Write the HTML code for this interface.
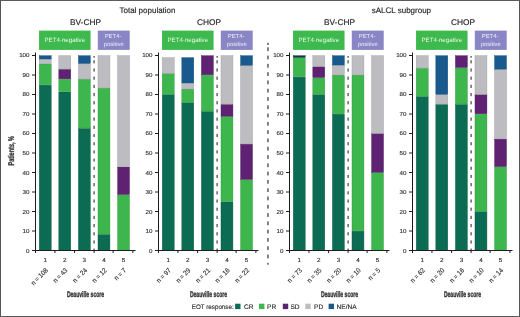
<!DOCTYPE html>
<html><head><meta charset="utf-8"><style>
html,body{margin:0;padding:0;background:#fff;}
body{width:520px;height:317px;overflow:hidden;position:relative;}
.frame{position:absolute;left:0;top:0;width:518px;height:315px;border:1px solid;border-color:#5a5a5a #555 #5a5a5a #555;}
svg{position:absolute;left:0;top:0;will-change:transform;}
text{font-family:"Liberation Sans",sans-serif;text-rendering:geometricPrecision;}
</style></head><body>
<div class="frame"></div>
<svg width="520" height="317" viewBox="0 0 520 317" font-family="Liberation Sans, sans-serif">
<rect x="39.25" y="85.14" width="11.95" height="165.16" fill="#0b6c53" stroke="#095844" stroke-width="0.4"/>
<rect x="39.25" y="63.89" width="11.95" height="20.86" fill="#3cb64d" stroke="#31953f" stroke-width="0.4"/>
<rect x="39.25" y="59.40" width="11.95" height="4.08" fill="#bdbdc1" stroke="#9a9a9e" stroke-width="0.4"/>
<rect x="39.25" y="55.70" width="11.95" height="3.31" fill="#185a8e" stroke="#134974" stroke-width="0.4"/>
<rect x="58.83" y="91.97" width="11.95" height="158.33" fill="#0b6c53" stroke="#095844" stroke-width="0.4"/>
<rect x="58.83" y="79.30" width="11.95" height="12.27" fill="#3cb64d" stroke="#31953f" stroke-width="0.4"/>
<rect x="58.83" y="69.35" width="11.95" height="9.54" fill="#5f2272" stroke="#4d1b5d" stroke-width="0.4"/>
<rect x="58.83" y="55.70" width="11.95" height="13.25" fill="#bdbdc1" stroke="#9a9a9e" stroke-width="0.4"/>
<rect x="78.41" y="128.44" width="11.95" height="121.86" fill="#0b6c53" stroke="#095844" stroke-width="0.4"/>
<rect x="78.41" y="79.30" width="11.95" height="48.74" fill="#3cb64d" stroke="#31953f" stroke-width="0.4"/>
<rect x="78.41" y="63.89" width="11.95" height="15.01" fill="#bdbdc1" stroke="#9a9a9e" stroke-width="0.4"/>
<rect x="78.41" y="55.70" width="11.95" height="7.79" fill="#185a8e" stroke="#134974" stroke-width="0.4"/>
<rect x="97.99" y="234.51" width="11.95" height="15.79" fill="#0b6c53" stroke="#095844" stroke-width="0.4"/>
<rect x="97.99" y="88.27" width="11.95" height="145.85" fill="#3cb64d" stroke="#31953f" stroke-width="0.4"/>
<rect x="97.99" y="55.70" width="11.95" height="32.16" fill="#bdbdc1" stroke="#9a9a9e" stroke-width="0.4"/>
<rect x="117.57" y="194.93" width="11.95" height="55.37" fill="#3cb64d" stroke="#31953f" stroke-width="0.4"/>
<rect x="117.57" y="167.04" width="11.95" height="27.49" fill="#5f2272" stroke="#4d1b5d" stroke-width="0.4"/>
<rect x="117.57" y="55.70" width="11.95" height="110.94" fill="#bdbdc1" stroke="#9a9a9e" stroke-width="0.4"/>
<line x1="35.5" y1="52.5" x2="35.5" y2="253" stroke="#1c1c1c" stroke-width="1"/>
<line x1="32" y1="250.50" x2="35.5" y2="250.50" stroke="#1c1c1c" stroke-width="1"/>
<text transform="translate(29.5,253) scale(1.07,1)" font-size="5.8" text-anchor="end" fill="#2a2a2a" stroke="#2a2a2a" stroke-width="0.12">0</text>
<line x1="32" y1="231.00" x2="35.5" y2="231.00" stroke="#1c1c1c" stroke-width="1"/>
<text transform="translate(29.5,233) scale(1.07,1)" font-size="5.8" text-anchor="end" fill="#2a2a2a" stroke="#2a2a2a" stroke-width="0.12">10</text>
<line x1="32" y1="211.50" x2="35.5" y2="211.50" stroke="#1c1c1c" stroke-width="1"/>
<text transform="translate(29.5,214) scale(1.07,1)" font-size="5.8" text-anchor="end" fill="#2a2a2a" stroke="#2a2a2a" stroke-width="0.12">20</text>
<line x1="32" y1="192.00" x2="35.5" y2="192.00" stroke="#1c1c1c" stroke-width="1"/>
<text transform="translate(29.5,194) scale(1.07,1)" font-size="5.8" text-anchor="end" fill="#2a2a2a" stroke="#2a2a2a" stroke-width="0.12">30</text>
<line x1="32" y1="172.50" x2="35.5" y2="172.50" stroke="#1c1c1c" stroke-width="1"/>
<text transform="translate(29.5,175) scale(1.07,1)" font-size="5.8" text-anchor="end" fill="#2a2a2a" stroke="#2a2a2a" stroke-width="0.12">40</text>
<line x1="32" y1="153.00" x2="35.5" y2="153.00" stroke="#1c1c1c" stroke-width="1"/>
<text transform="translate(29.5,155) scale(1.07,1)" font-size="5.8" text-anchor="end" fill="#2a2a2a" stroke="#2a2a2a" stroke-width="0.12">50</text>
<line x1="32" y1="133.50" x2="35.5" y2="133.50" stroke="#1c1c1c" stroke-width="1"/>
<text transform="translate(29.5,135) scale(1.07,1)" font-size="5.8" text-anchor="end" fill="#2a2a2a" stroke="#2a2a2a" stroke-width="0.12">60</text>
<line x1="32" y1="114.00" x2="35.5" y2="114.00" stroke="#1c1c1c" stroke-width="1"/>
<text transform="translate(29.5,116) scale(1.07,1)" font-size="5.8" text-anchor="end" fill="#2a2a2a" stroke="#2a2a2a" stroke-width="0.12">70</text>
<line x1="32" y1="94.50" x2="35.5" y2="94.50" stroke="#1c1c1c" stroke-width="1"/>
<text transform="translate(29.5,96) scale(1.07,1)" font-size="5.8" text-anchor="end" fill="#2a2a2a" stroke="#2a2a2a" stroke-width="0.12">80</text>
<line x1="32" y1="75.00" x2="35.5" y2="75.00" stroke="#1c1c1c" stroke-width="1"/>
<text transform="translate(29.5,77) scale(1.07,1)" font-size="5.8" text-anchor="end" fill="#2a2a2a" stroke="#2a2a2a" stroke-width="0.12">90</text>
<line x1="32" y1="55.50" x2="35.5" y2="55.50" stroke="#1c1c1c" stroke-width="1"/>
<text transform="translate(29.5,57) scale(1.07,1)" font-size="5.8" text-anchor="end" fill="#2a2a2a" stroke="#2a2a2a" stroke-width="0.12">100</text>
<line x1="35" y1="250.50" x2="135.5" y2="250.50" stroke="#1c1c1c" stroke-width="1"/>
<line x1="54.95" y1="250.50" x2="54.95" y2="253" stroke="#1c1c1c" stroke-width="1"/>
<line x1="74.60" y1="250.50" x2="74.60" y2="253" stroke="#1c1c1c" stroke-width="1"/>
<line x1="94.10" y1="250.50" x2="94.10" y2="253" stroke="#1c1c1c" stroke-width="1"/>
<line x1="113.10" y1="250.50" x2="113.10" y2="253" stroke="#1c1c1c" stroke-width="1"/>
<line x1="132.90" y1="250.50" x2="132.90" y2="253" stroke="#1c1c1c" stroke-width="1"/>
<rect x="93.45" y="56.00" width="1.3" height="1.70" fill="#505050"/>
<rect x="93.45" y="60.20" width="1.3" height="3.20" fill="#505050"/>
<rect x="93.45" y="68.39" width="1.3" height="3.20" fill="#505050"/>
<rect x="93.45" y="76.58" width="1.3" height="3.20" fill="#505050"/>
<rect x="93.45" y="84.77" width="1.3" height="3.20" fill="#505050"/>
<rect x="93.45" y="92.96" width="1.3" height="3.20" fill="#505050"/>
<rect x="93.45" y="101.15" width="1.3" height="3.20" fill="#505050"/>
<rect x="93.45" y="109.34" width="1.3" height="3.20" fill="#505050"/>
<rect x="93.45" y="117.53" width="1.3" height="3.20" fill="#505050"/>
<rect x="93.45" y="125.72" width="1.3" height="3.20" fill="#505050"/>
<rect x="93.45" y="133.91" width="1.3" height="3.20" fill="#505050"/>
<rect x="93.45" y="142.10" width="1.3" height="3.20" fill="#505050"/>
<rect x="93.45" y="150.29" width="1.3" height="3.20" fill="#505050"/>
<rect x="93.45" y="158.48" width="1.3" height="3.20" fill="#505050"/>
<rect x="93.45" y="166.67" width="1.3" height="3.20" fill="#505050"/>
<rect x="93.45" y="174.86" width="1.3" height="3.20" fill="#505050"/>
<rect x="93.45" y="183.05" width="1.3" height="3.20" fill="#505050"/>
<rect x="93.45" y="191.24" width="1.3" height="3.20" fill="#505050"/>
<rect x="93.45" y="199.43" width="1.3" height="3.20" fill="#505050"/>
<rect x="93.45" y="207.62" width="1.3" height="3.20" fill="#505050"/>
<rect x="93.45" y="215.81" width="1.3" height="3.20" fill="#505050"/>
<rect x="93.45" y="224.00" width="1.3" height="3.20" fill="#505050"/>
<rect x="93.45" y="232.19" width="1.3" height="3.20" fill="#505050"/>
<rect x="93.45" y="240.38" width="1.3" height="3.20" fill="#505050"/>
<rect x="93.45" y="248.57" width="1.3" height="1.43" fill="#505050"/>
<text transform="translate(45.22,261.5) scale(1.07,1)" font-size="5.9" text-anchor="middle" fill="#2a2a2a" stroke="#2a2a2a" stroke-width="0.12">1</text>
<text transform="translate(48.42,270.90) rotate(-45) scale(0.9,1)" font-size="6.9" text-anchor="end" fill="#2a2a2a" stroke="#2a2a2a" stroke-width="0.12">n = 108</text>
<text transform="translate(64.80,261.5) scale(1.07,1)" font-size="5.9" text-anchor="middle" fill="#2a2a2a" stroke="#2a2a2a" stroke-width="0.12">2</text>
<text transform="translate(68.00,270.90) rotate(-45) scale(0.9,1)" font-size="6.9" text-anchor="end" fill="#2a2a2a" stroke="#2a2a2a" stroke-width="0.12">n = 43</text>
<text transform="translate(84.38,261.5) scale(1.07,1)" font-size="5.9" text-anchor="middle" fill="#2a2a2a" stroke="#2a2a2a" stroke-width="0.12">3</text>
<text transform="translate(87.58,270.90) rotate(-45) scale(0.9,1)" font-size="6.9" text-anchor="end" fill="#2a2a2a" stroke="#2a2a2a" stroke-width="0.12">n = 24</text>
<text transform="translate(103.96,261.5) scale(1.07,1)" font-size="5.9" text-anchor="middle" fill="#2a2a2a" stroke="#2a2a2a" stroke-width="0.12">4</text>
<text transform="translate(107.16,270.90) rotate(-45) scale(0.9,1)" font-size="6.9" text-anchor="end" fill="#2a2a2a" stroke="#2a2a2a" stroke-width="0.12">n = 12</text>
<text transform="translate(123.54,261.5) scale(1.07,1)" font-size="5.9" text-anchor="middle" fill="#2a2a2a" stroke="#2a2a2a" stroke-width="0.12">5</text>
<text transform="translate(126.74,270.90) rotate(-45) scale(0.9,1)" font-size="6.9" text-anchor="end" fill="#2a2a2a" stroke="#2a2a2a" stroke-width="0.12">n = 7</text>
<text transform="translate(85.50,297) scale(0.62,1)" font-size="8.2" font-weight="bold" text-anchor="middle" fill="#333" stroke="#333" stroke-width="0.35">Deauville score</text>
<text x="85.50" y="25.2" font-size="8.35" text-anchor="middle" fill="#1e1e1e" stroke="#1e1e1e" stroke-width="0.15">BV-CHP</text>
<rect x="39.05" y="30.6" width="51.51" height="19.3" fill="#3eb94d"/>
<text x="64.80" y="42.3" font-size="6.15" text-anchor="middle" fill="#eefaea">PET4-negative</text>
<rect x="97.79" y="30.6" width="31.93" height="19.3" fill="#8a86c5"/>
<text x="113.05" y="37.7" font-size="5.9" text-anchor="middle" fill="#eeedfa">PET4-</text>
<text x="113.75" y="45.7" font-size="5.9" text-anchor="middle" fill="#eeedfa">positive</text>
<rect x="162.25" y="94.70" width="11.95" height="155.60" fill="#0b6c53" stroke="#095844" stroke-width="0.4"/>
<rect x="162.25" y="73.64" width="11.95" height="20.66" fill="#3cb64d" stroke="#31953f" stroke-width="0.4"/>
<rect x="162.25" y="57.65" width="11.95" height="15.59" fill="#bdbdc1" stroke="#9a9a9e" stroke-width="0.4"/>
<rect x="181.83" y="102.70" width="11.95" height="147.60" fill="#0b6c53" stroke="#095844" stroke-width="0.4"/>
<rect x="181.83" y="89.24" width="11.95" height="13.06" fill="#3cb64d" stroke="#31953f" stroke-width="0.4"/>
<rect x="181.83" y="83.39" width="11.95" height="5.45" fill="#bdbdc1" stroke="#9a9a9e" stroke-width="0.4"/>
<rect x="181.83" y="57.65" width="11.95" height="25.34" fill="#185a8e" stroke="#134974" stroke-width="0.4"/>
<rect x="201.41" y="111.47" width="11.95" height="138.83" fill="#0b6c53" stroke="#095844" stroke-width="0.4"/>
<rect x="201.41" y="75.20" width="11.95" height="35.87" fill="#3cb64d" stroke="#31953f" stroke-width="0.4"/>
<rect x="201.41" y="55.70" width="11.95" height="19.10" fill="#5f2272" stroke="#4d1b5d" stroke-width="0.4"/>
<rect x="220.99" y="201.95" width="11.95" height="48.35" fill="#0b6c53" stroke="#095844" stroke-width="0.4"/>
<rect x="220.99" y="116.64" width="11.95" height="84.91" fill="#3cb64d" stroke="#31953f" stroke-width="0.4"/>
<rect x="220.99" y="104.45" width="11.95" height="11.79" fill="#5f2272" stroke="#4d1b5d" stroke-width="0.4"/>
<rect x="220.99" y="55.70" width="11.95" height="48.35" fill="#bdbdc1" stroke="#9a9a9e" stroke-width="0.4"/>
<rect x="240.57" y="179.72" width="11.95" height="70.58" fill="#3cb64d" stroke="#31953f" stroke-width="0.4"/>
<rect x="240.57" y="144.23" width="11.95" height="35.09" fill="#5f2272" stroke="#4d1b5d" stroke-width="0.4"/>
<rect x="240.57" y="65.65" width="11.95" height="78.19" fill="#bdbdc1" stroke="#9a9a9e" stroke-width="0.4"/>
<rect x="240.57" y="55.70" width="11.95" height="9.54" fill="#185a8e" stroke="#134974" stroke-width="0.4"/>
<line x1="158.5" y1="52.5" x2="158.5" y2="253" stroke="#1c1c1c" stroke-width="1"/>
<line x1="155" y1="250.50" x2="158.5" y2="250.50" stroke="#1c1c1c" stroke-width="1"/>
<text transform="translate(152.5,253) scale(1.07,1)" font-size="5.8" text-anchor="end" fill="#2a2a2a" stroke="#2a2a2a" stroke-width="0.12">0</text>
<line x1="155" y1="231.00" x2="158.5" y2="231.00" stroke="#1c1c1c" stroke-width="1"/>
<text transform="translate(152.5,233) scale(1.07,1)" font-size="5.8" text-anchor="end" fill="#2a2a2a" stroke="#2a2a2a" stroke-width="0.12">10</text>
<line x1="155" y1="211.50" x2="158.5" y2="211.50" stroke="#1c1c1c" stroke-width="1"/>
<text transform="translate(152.5,214) scale(1.07,1)" font-size="5.8" text-anchor="end" fill="#2a2a2a" stroke="#2a2a2a" stroke-width="0.12">20</text>
<line x1="155" y1="192.00" x2="158.5" y2="192.00" stroke="#1c1c1c" stroke-width="1"/>
<text transform="translate(152.5,194) scale(1.07,1)" font-size="5.8" text-anchor="end" fill="#2a2a2a" stroke="#2a2a2a" stroke-width="0.12">30</text>
<line x1="155" y1="172.50" x2="158.5" y2="172.50" stroke="#1c1c1c" stroke-width="1"/>
<text transform="translate(152.5,175) scale(1.07,1)" font-size="5.8" text-anchor="end" fill="#2a2a2a" stroke="#2a2a2a" stroke-width="0.12">40</text>
<line x1="155" y1="153.00" x2="158.5" y2="153.00" stroke="#1c1c1c" stroke-width="1"/>
<text transform="translate(152.5,155) scale(1.07,1)" font-size="5.8" text-anchor="end" fill="#2a2a2a" stroke="#2a2a2a" stroke-width="0.12">50</text>
<line x1="155" y1="133.50" x2="158.5" y2="133.50" stroke="#1c1c1c" stroke-width="1"/>
<text transform="translate(152.5,135) scale(1.07,1)" font-size="5.8" text-anchor="end" fill="#2a2a2a" stroke="#2a2a2a" stroke-width="0.12">60</text>
<line x1="155" y1="114.00" x2="158.5" y2="114.00" stroke="#1c1c1c" stroke-width="1"/>
<text transform="translate(152.5,116) scale(1.07,1)" font-size="5.8" text-anchor="end" fill="#2a2a2a" stroke="#2a2a2a" stroke-width="0.12">70</text>
<line x1="155" y1="94.50" x2="158.5" y2="94.50" stroke="#1c1c1c" stroke-width="1"/>
<text transform="translate(152.5,96) scale(1.07,1)" font-size="5.8" text-anchor="end" fill="#2a2a2a" stroke="#2a2a2a" stroke-width="0.12">80</text>
<line x1="155" y1="75.00" x2="158.5" y2="75.00" stroke="#1c1c1c" stroke-width="1"/>
<text transform="translate(152.5,77) scale(1.07,1)" font-size="5.8" text-anchor="end" fill="#2a2a2a" stroke="#2a2a2a" stroke-width="0.12">90</text>
<line x1="155" y1="55.50" x2="158.5" y2="55.50" stroke="#1c1c1c" stroke-width="1"/>
<text transform="translate(152.5,57) scale(1.07,1)" font-size="5.8" text-anchor="end" fill="#2a2a2a" stroke="#2a2a2a" stroke-width="0.12">100</text>
<line x1="158" y1="250.50" x2="258.5" y2="250.50" stroke="#1c1c1c" stroke-width="1"/>
<line x1="177.95" y1="250.50" x2="177.95" y2="253" stroke="#1c1c1c" stroke-width="1"/>
<line x1="197.60" y1="250.50" x2="197.60" y2="253" stroke="#1c1c1c" stroke-width="1"/>
<line x1="217.10" y1="250.50" x2="217.10" y2="253" stroke="#1c1c1c" stroke-width="1"/>
<line x1="236.10" y1="250.50" x2="236.10" y2="253" stroke="#1c1c1c" stroke-width="1"/>
<line x1="255.90" y1="250.50" x2="255.90" y2="253" stroke="#1c1c1c" stroke-width="1"/>
<rect x="216.45" y="56.00" width="1.3" height="1.70" fill="#505050"/>
<rect x="216.45" y="60.20" width="1.3" height="3.20" fill="#505050"/>
<rect x="216.45" y="68.39" width="1.3" height="3.20" fill="#505050"/>
<rect x="216.45" y="76.58" width="1.3" height="3.20" fill="#505050"/>
<rect x="216.45" y="84.77" width="1.3" height="3.20" fill="#505050"/>
<rect x="216.45" y="92.96" width="1.3" height="3.20" fill="#505050"/>
<rect x="216.45" y="101.15" width="1.3" height="3.20" fill="#505050"/>
<rect x="216.45" y="109.34" width="1.3" height="3.20" fill="#505050"/>
<rect x="216.45" y="117.53" width="1.3" height="3.20" fill="#505050"/>
<rect x="216.45" y="125.72" width="1.3" height="3.20" fill="#505050"/>
<rect x="216.45" y="133.91" width="1.3" height="3.20" fill="#505050"/>
<rect x="216.45" y="142.10" width="1.3" height="3.20" fill="#505050"/>
<rect x="216.45" y="150.29" width="1.3" height="3.20" fill="#505050"/>
<rect x="216.45" y="158.48" width="1.3" height="3.20" fill="#505050"/>
<rect x="216.45" y="166.67" width="1.3" height="3.20" fill="#505050"/>
<rect x="216.45" y="174.86" width="1.3" height="3.20" fill="#505050"/>
<rect x="216.45" y="183.05" width="1.3" height="3.20" fill="#505050"/>
<rect x="216.45" y="191.24" width="1.3" height="3.20" fill="#505050"/>
<rect x="216.45" y="199.43" width="1.3" height="3.20" fill="#505050"/>
<rect x="216.45" y="207.62" width="1.3" height="3.20" fill="#505050"/>
<rect x="216.45" y="215.81" width="1.3" height="3.20" fill="#505050"/>
<rect x="216.45" y="224.00" width="1.3" height="3.20" fill="#505050"/>
<rect x="216.45" y="232.19" width="1.3" height="3.20" fill="#505050"/>
<rect x="216.45" y="240.38" width="1.3" height="3.20" fill="#505050"/>
<rect x="216.45" y="248.57" width="1.3" height="1.43" fill="#505050"/>
<text transform="translate(168.23,261.5) scale(1.07,1)" font-size="5.9" text-anchor="middle" fill="#2a2a2a" stroke="#2a2a2a" stroke-width="0.12">1</text>
<text transform="translate(171.43,270.90) rotate(-45) scale(0.9,1)" font-size="6.9" text-anchor="end" fill="#2a2a2a" stroke="#2a2a2a" stroke-width="0.12">n = 97</text>
<text transform="translate(187.81,261.5) scale(1.07,1)" font-size="5.9" text-anchor="middle" fill="#2a2a2a" stroke="#2a2a2a" stroke-width="0.12">2</text>
<text transform="translate(191.00,270.90) rotate(-45) scale(0.9,1)" font-size="6.9" text-anchor="end" fill="#2a2a2a" stroke="#2a2a2a" stroke-width="0.12">n = 29</text>
<text transform="translate(207.39,261.5) scale(1.07,1)" font-size="5.9" text-anchor="middle" fill="#2a2a2a" stroke="#2a2a2a" stroke-width="0.12">3</text>
<text transform="translate(210.59,270.90) rotate(-45) scale(0.9,1)" font-size="6.9" text-anchor="end" fill="#2a2a2a" stroke="#2a2a2a" stroke-width="0.12">n = 21</text>
<text transform="translate(226.97,261.5) scale(1.07,1)" font-size="5.9" text-anchor="middle" fill="#2a2a2a" stroke="#2a2a2a" stroke-width="0.12">4</text>
<text transform="translate(230.17,270.90) rotate(-45) scale(0.9,1)" font-size="6.9" text-anchor="end" fill="#2a2a2a" stroke="#2a2a2a" stroke-width="0.12">n = 16</text>
<text transform="translate(246.55,261.5) scale(1.07,1)" font-size="5.9" text-anchor="middle" fill="#2a2a2a" stroke="#2a2a2a" stroke-width="0.12">5</text>
<text transform="translate(249.75,270.90) rotate(-45) scale(0.9,1)" font-size="6.9" text-anchor="end" fill="#2a2a2a" stroke="#2a2a2a" stroke-width="0.12">n = 22</text>
<text transform="translate(208.50,297) scale(0.62,1)" font-size="8.2" font-weight="bold" text-anchor="middle" fill="#333" stroke="#333" stroke-width="0.35">Deauville score</text>
<text x="209.00" y="25.2" font-size="8.35" text-anchor="middle" fill="#1e1e1e" stroke="#1e1e1e" stroke-width="0.15">CHOP</text>
<rect x="162.05" y="30.6" width="51.51" height="19.3" fill="#3eb94d"/>
<text x="187.81" y="42.3" font-size="6.15" text-anchor="middle" fill="#eefaea">PET4-negative</text>
<rect x="220.79" y="30.6" width="31.93" height="19.3" fill="#8a86c5"/>
<text x="236.06" y="37.7" font-size="5.9" text-anchor="middle" fill="#eeedfa">PET4-</text>
<text x="236.75" y="45.7" font-size="5.9" text-anchor="middle" fill="#eeedfa">positive</text>
<rect x="293.25" y="77.15" width="11.95" height="173.15" fill="#0b6c53" stroke="#095844" stroke-width="0.4"/>
<rect x="293.25" y="57.84" width="11.95" height="18.91" fill="#3cb64d" stroke="#31953f" stroke-width="0.4"/>
<rect x="293.25" y="55.70" width="11.95" height="1.74" fill="#0d3c44" stroke="#0a3137" stroke-width="0.4"/>
<rect x="312.83" y="94.70" width="11.95" height="155.60" fill="#0b6c53" stroke="#095844" stroke-width="0.4"/>
<rect x="312.83" y="77.93" width="11.95" height="16.37" fill="#3cb64d" stroke="#31953f" stroke-width="0.4"/>
<rect x="312.83" y="66.82" width="11.95" height="10.72" fill="#5f2272" stroke="#4d1b5d" stroke-width="0.4"/>
<rect x="312.83" y="55.70" width="11.95" height="10.72" fill="#bdbdc1" stroke="#9a9a9e" stroke-width="0.4"/>
<rect x="332.41" y="114.20" width="11.95" height="136.10" fill="#0b6c53" stroke="#095844" stroke-width="0.4"/>
<rect x="332.41" y="75.20" width="11.95" height="38.60" fill="#3cb64d" stroke="#31953f" stroke-width="0.4"/>
<rect x="332.41" y="65.45" width="11.95" height="9.35" fill="#bdbdc1" stroke="#9a9a9e" stroke-width="0.4"/>
<rect x="332.41" y="55.70" width="11.95" height="9.35" fill="#185a8e" stroke="#134974" stroke-width="0.4"/>
<rect x="351.99" y="231.20" width="11.95" height="19.10" fill="#0b6c53" stroke="#095844" stroke-width="0.4"/>
<rect x="351.99" y="75.20" width="11.95" height="155.60" fill="#3cb64d" stroke="#31953f" stroke-width="0.4"/>
<rect x="351.99" y="55.70" width="11.95" height="19.10" fill="#bdbdc1" stroke="#9a9a9e" stroke-width="0.4"/>
<rect x="371.57" y="172.70" width="11.95" height="77.60" fill="#3cb64d" stroke="#31953f" stroke-width="0.4"/>
<rect x="371.57" y="133.70" width="11.95" height="38.60" fill="#5f2272" stroke="#4d1b5d" stroke-width="0.4"/>
<rect x="371.57" y="55.70" width="11.95" height="77.60" fill="#bdbdc1" stroke="#9a9a9e" stroke-width="0.4"/>
<line x1="289.5" y1="52.5" x2="289.5" y2="253" stroke="#1c1c1c" stroke-width="1"/>
<line x1="286" y1="250.50" x2="289.5" y2="250.50" stroke="#1c1c1c" stroke-width="1"/>
<text transform="translate(283.5,253) scale(1.07,1)" font-size="5.8" text-anchor="end" fill="#2a2a2a" stroke="#2a2a2a" stroke-width="0.12">0</text>
<line x1="286" y1="231.00" x2="289.5" y2="231.00" stroke="#1c1c1c" stroke-width="1"/>
<text transform="translate(283.5,233) scale(1.07,1)" font-size="5.8" text-anchor="end" fill="#2a2a2a" stroke="#2a2a2a" stroke-width="0.12">10</text>
<line x1="286" y1="211.50" x2="289.5" y2="211.50" stroke="#1c1c1c" stroke-width="1"/>
<text transform="translate(283.5,214) scale(1.07,1)" font-size="5.8" text-anchor="end" fill="#2a2a2a" stroke="#2a2a2a" stroke-width="0.12">20</text>
<line x1="286" y1="192.00" x2="289.5" y2="192.00" stroke="#1c1c1c" stroke-width="1"/>
<text transform="translate(283.5,194) scale(1.07,1)" font-size="5.8" text-anchor="end" fill="#2a2a2a" stroke="#2a2a2a" stroke-width="0.12">30</text>
<line x1="286" y1="172.50" x2="289.5" y2="172.50" stroke="#1c1c1c" stroke-width="1"/>
<text transform="translate(283.5,175) scale(1.07,1)" font-size="5.8" text-anchor="end" fill="#2a2a2a" stroke="#2a2a2a" stroke-width="0.12">40</text>
<line x1="286" y1="153.00" x2="289.5" y2="153.00" stroke="#1c1c1c" stroke-width="1"/>
<text transform="translate(283.5,155) scale(1.07,1)" font-size="5.8" text-anchor="end" fill="#2a2a2a" stroke="#2a2a2a" stroke-width="0.12">50</text>
<line x1="286" y1="133.50" x2="289.5" y2="133.50" stroke="#1c1c1c" stroke-width="1"/>
<text transform="translate(283.5,135) scale(1.07,1)" font-size="5.8" text-anchor="end" fill="#2a2a2a" stroke="#2a2a2a" stroke-width="0.12">60</text>
<line x1="286" y1="114.00" x2="289.5" y2="114.00" stroke="#1c1c1c" stroke-width="1"/>
<text transform="translate(283.5,116) scale(1.07,1)" font-size="5.8" text-anchor="end" fill="#2a2a2a" stroke="#2a2a2a" stroke-width="0.12">70</text>
<line x1="286" y1="94.50" x2="289.5" y2="94.50" stroke="#1c1c1c" stroke-width="1"/>
<text transform="translate(283.5,96) scale(1.07,1)" font-size="5.8" text-anchor="end" fill="#2a2a2a" stroke="#2a2a2a" stroke-width="0.12">80</text>
<line x1="286" y1="75.00" x2="289.5" y2="75.00" stroke="#1c1c1c" stroke-width="1"/>
<text transform="translate(283.5,77) scale(1.07,1)" font-size="5.8" text-anchor="end" fill="#2a2a2a" stroke="#2a2a2a" stroke-width="0.12">90</text>
<line x1="286" y1="55.50" x2="289.5" y2="55.50" stroke="#1c1c1c" stroke-width="1"/>
<text transform="translate(283.5,57) scale(1.07,1)" font-size="5.8" text-anchor="end" fill="#2a2a2a" stroke="#2a2a2a" stroke-width="0.12">100</text>
<line x1="289" y1="250.50" x2="389.5" y2="250.50" stroke="#1c1c1c" stroke-width="1"/>
<line x1="308.95" y1="250.50" x2="308.95" y2="253" stroke="#1c1c1c" stroke-width="1"/>
<line x1="328.60" y1="250.50" x2="328.60" y2="253" stroke="#1c1c1c" stroke-width="1"/>
<line x1="348.10" y1="250.50" x2="348.10" y2="253" stroke="#1c1c1c" stroke-width="1"/>
<line x1="367.10" y1="250.50" x2="367.10" y2="253" stroke="#1c1c1c" stroke-width="1"/>
<line x1="386.90" y1="250.50" x2="386.90" y2="253" stroke="#1c1c1c" stroke-width="1"/>
<rect x="347.45" y="56.00" width="1.3" height="1.70" fill="#505050"/>
<rect x="347.45" y="60.20" width="1.3" height="3.20" fill="#505050"/>
<rect x="347.45" y="68.39" width="1.3" height="3.20" fill="#505050"/>
<rect x="347.45" y="76.58" width="1.3" height="3.20" fill="#505050"/>
<rect x="347.45" y="84.77" width="1.3" height="3.20" fill="#505050"/>
<rect x="347.45" y="92.96" width="1.3" height="3.20" fill="#505050"/>
<rect x="347.45" y="101.15" width="1.3" height="3.20" fill="#505050"/>
<rect x="347.45" y="109.34" width="1.3" height="3.20" fill="#505050"/>
<rect x="347.45" y="117.53" width="1.3" height="3.20" fill="#505050"/>
<rect x="347.45" y="125.72" width="1.3" height="3.20" fill="#505050"/>
<rect x="347.45" y="133.91" width="1.3" height="3.20" fill="#505050"/>
<rect x="347.45" y="142.10" width="1.3" height="3.20" fill="#505050"/>
<rect x="347.45" y="150.29" width="1.3" height="3.20" fill="#505050"/>
<rect x="347.45" y="158.48" width="1.3" height="3.20" fill="#505050"/>
<rect x="347.45" y="166.67" width="1.3" height="3.20" fill="#505050"/>
<rect x="347.45" y="174.86" width="1.3" height="3.20" fill="#505050"/>
<rect x="347.45" y="183.05" width="1.3" height="3.20" fill="#505050"/>
<rect x="347.45" y="191.24" width="1.3" height="3.20" fill="#505050"/>
<rect x="347.45" y="199.43" width="1.3" height="3.20" fill="#505050"/>
<rect x="347.45" y="207.62" width="1.3" height="3.20" fill="#505050"/>
<rect x="347.45" y="215.81" width="1.3" height="3.20" fill="#505050"/>
<rect x="347.45" y="224.00" width="1.3" height="3.20" fill="#505050"/>
<rect x="347.45" y="232.19" width="1.3" height="3.20" fill="#505050"/>
<rect x="347.45" y="240.38" width="1.3" height="3.20" fill="#505050"/>
<rect x="347.45" y="248.57" width="1.3" height="1.43" fill="#505050"/>
<text transform="translate(299.23,261.5) scale(1.07,1)" font-size="5.9" text-anchor="middle" fill="#2a2a2a" stroke="#2a2a2a" stroke-width="0.12">1</text>
<text transform="translate(302.43,270.90) rotate(-45) scale(0.9,1)" font-size="6.9" text-anchor="end" fill="#2a2a2a" stroke="#2a2a2a" stroke-width="0.12">n = 73</text>
<text transform="translate(318.81,261.5) scale(1.07,1)" font-size="5.9" text-anchor="middle" fill="#2a2a2a" stroke="#2a2a2a" stroke-width="0.12">2</text>
<text transform="translate(322.00,270.90) rotate(-45) scale(0.9,1)" font-size="6.9" text-anchor="end" fill="#2a2a2a" stroke="#2a2a2a" stroke-width="0.12">n = 35</text>
<text transform="translate(338.39,261.5) scale(1.07,1)" font-size="5.9" text-anchor="middle" fill="#2a2a2a" stroke="#2a2a2a" stroke-width="0.12">3</text>
<text transform="translate(341.59,270.90) rotate(-45) scale(0.9,1)" font-size="6.9" text-anchor="end" fill="#2a2a2a" stroke="#2a2a2a" stroke-width="0.12">n = 20</text>
<text transform="translate(357.97,261.5) scale(1.07,1)" font-size="5.9" text-anchor="middle" fill="#2a2a2a" stroke="#2a2a2a" stroke-width="0.12">4</text>
<text transform="translate(361.17,270.90) rotate(-45) scale(0.9,1)" font-size="6.9" text-anchor="end" fill="#2a2a2a" stroke="#2a2a2a" stroke-width="0.12">n = 10</text>
<text transform="translate(377.55,261.5) scale(1.07,1)" font-size="5.9" text-anchor="middle" fill="#2a2a2a" stroke="#2a2a2a" stroke-width="0.12">5</text>
<text transform="translate(380.75,270.90) rotate(-45) scale(0.9,1)" font-size="6.9" text-anchor="end" fill="#2a2a2a" stroke="#2a2a2a" stroke-width="0.12">n = 5</text>
<text transform="translate(339.50,297) scale(0.62,1)" font-size="8.2" font-weight="bold" text-anchor="middle" fill="#333" stroke="#333" stroke-width="0.35">Deauville score</text>
<text x="339.50" y="25.2" font-size="8.35" text-anchor="middle" fill="#1e1e1e" stroke="#1e1e1e" stroke-width="0.15">BV-CHP</text>
<rect x="293.05" y="30.6" width="51.51" height="19.3" fill="#3eb94d"/>
<text x="318.81" y="42.3" font-size="6.15" text-anchor="middle" fill="#eefaea">PET4-negative</text>
<rect x="351.79" y="30.6" width="31.93" height="19.3" fill="#8a86c5"/>
<text x="367.06" y="37.7" font-size="5.9" text-anchor="middle" fill="#eeedfa">PET4-</text>
<text x="367.75" y="45.7" font-size="5.9" text-anchor="middle" fill="#eeedfa">positive</text>
<rect x="416.25" y="96.65" width="11.95" height="153.65" fill="#0b6c53" stroke="#095844" stroke-width="0.4"/>
<rect x="416.25" y="68.38" width="11.95" height="27.88" fill="#3cb64d" stroke="#31953f" stroke-width="0.4"/>
<rect x="416.25" y="55.70" width="11.95" height="12.28" fill="#bdbdc1" stroke="#9a9a9e" stroke-width="0.4"/>
<rect x="435.83" y="104.45" width="11.95" height="145.85" fill="#0b6c53" stroke="#095844" stroke-width="0.4"/>
<rect x="435.83" y="94.70" width="11.95" height="9.35" fill="#bdbdc1" stroke="#9a9a9e" stroke-width="0.4"/>
<rect x="435.83" y="55.70" width="11.95" height="38.60" fill="#185a8e" stroke="#134974" stroke-width="0.4"/>
<rect x="455.41" y="104.45" width="11.95" height="145.85" fill="#0b6c53" stroke="#095844" stroke-width="0.4"/>
<rect x="455.41" y="67.89" width="11.95" height="36.16" fill="#3cb64d" stroke="#31953f" stroke-width="0.4"/>
<rect x="455.41" y="55.70" width="11.95" height="11.79" fill="#5f2272" stroke="#4d1b5d" stroke-width="0.4"/>
<rect x="474.99" y="211.70" width="11.95" height="38.60" fill="#0b6c53" stroke="#095844" stroke-width="0.4"/>
<rect x="474.99" y="114.20" width="11.95" height="97.10" fill="#3cb64d" stroke="#31953f" stroke-width="0.4"/>
<rect x="474.99" y="94.70" width="11.95" height="19.10" fill="#5f2272" stroke="#4d1b5d" stroke-width="0.4"/>
<rect x="474.99" y="55.70" width="11.95" height="38.60" fill="#bdbdc1" stroke="#9a9a9e" stroke-width="0.4"/>
<rect x="494.57" y="167.04" width="11.95" height="83.25" fill="#3cb64d" stroke="#31953f" stroke-width="0.4"/>
<rect x="494.57" y="139.16" width="11.95" height="27.49" fill="#5f2272" stroke="#4d1b5d" stroke-width="0.4"/>
<rect x="494.57" y="69.55" width="11.95" height="69.21" fill="#bdbdc1" stroke="#9a9a9e" stroke-width="0.4"/>
<rect x="494.57" y="55.70" width="11.95" height="13.44" fill="#185a8e" stroke="#134974" stroke-width="0.4"/>
<line x1="412.5" y1="52.5" x2="412.5" y2="253" stroke="#1c1c1c" stroke-width="1"/>
<line x1="409" y1="250.50" x2="412.5" y2="250.50" stroke="#1c1c1c" stroke-width="1"/>
<text transform="translate(406.5,253) scale(1.07,1)" font-size="5.8" text-anchor="end" fill="#2a2a2a" stroke="#2a2a2a" stroke-width="0.12">0</text>
<line x1="409" y1="231.00" x2="412.5" y2="231.00" stroke="#1c1c1c" stroke-width="1"/>
<text transform="translate(406.5,233) scale(1.07,1)" font-size="5.8" text-anchor="end" fill="#2a2a2a" stroke="#2a2a2a" stroke-width="0.12">10</text>
<line x1="409" y1="211.50" x2="412.5" y2="211.50" stroke="#1c1c1c" stroke-width="1"/>
<text transform="translate(406.5,214) scale(1.07,1)" font-size="5.8" text-anchor="end" fill="#2a2a2a" stroke="#2a2a2a" stroke-width="0.12">20</text>
<line x1="409" y1="192.00" x2="412.5" y2="192.00" stroke="#1c1c1c" stroke-width="1"/>
<text transform="translate(406.5,194) scale(1.07,1)" font-size="5.8" text-anchor="end" fill="#2a2a2a" stroke="#2a2a2a" stroke-width="0.12">30</text>
<line x1="409" y1="172.50" x2="412.5" y2="172.50" stroke="#1c1c1c" stroke-width="1"/>
<text transform="translate(406.5,175) scale(1.07,1)" font-size="5.8" text-anchor="end" fill="#2a2a2a" stroke="#2a2a2a" stroke-width="0.12">40</text>
<line x1="409" y1="153.00" x2="412.5" y2="153.00" stroke="#1c1c1c" stroke-width="1"/>
<text transform="translate(406.5,155) scale(1.07,1)" font-size="5.8" text-anchor="end" fill="#2a2a2a" stroke="#2a2a2a" stroke-width="0.12">50</text>
<line x1="409" y1="133.50" x2="412.5" y2="133.50" stroke="#1c1c1c" stroke-width="1"/>
<text transform="translate(406.5,135) scale(1.07,1)" font-size="5.8" text-anchor="end" fill="#2a2a2a" stroke="#2a2a2a" stroke-width="0.12">60</text>
<line x1="409" y1="114.00" x2="412.5" y2="114.00" stroke="#1c1c1c" stroke-width="1"/>
<text transform="translate(406.5,116) scale(1.07,1)" font-size="5.8" text-anchor="end" fill="#2a2a2a" stroke="#2a2a2a" stroke-width="0.12">70</text>
<line x1="409" y1="94.50" x2="412.5" y2="94.50" stroke="#1c1c1c" stroke-width="1"/>
<text transform="translate(406.5,96) scale(1.07,1)" font-size="5.8" text-anchor="end" fill="#2a2a2a" stroke="#2a2a2a" stroke-width="0.12">80</text>
<line x1="409" y1="75.00" x2="412.5" y2="75.00" stroke="#1c1c1c" stroke-width="1"/>
<text transform="translate(406.5,77) scale(1.07,1)" font-size="5.8" text-anchor="end" fill="#2a2a2a" stroke="#2a2a2a" stroke-width="0.12">90</text>
<line x1="409" y1="55.50" x2="412.5" y2="55.50" stroke="#1c1c1c" stroke-width="1"/>
<text transform="translate(406.5,57) scale(1.07,1)" font-size="5.8" text-anchor="end" fill="#2a2a2a" stroke="#2a2a2a" stroke-width="0.12">100</text>
<line x1="412" y1="250.50" x2="512.5" y2="250.50" stroke="#1c1c1c" stroke-width="1"/>
<line x1="431.95" y1="250.50" x2="431.95" y2="253" stroke="#1c1c1c" stroke-width="1"/>
<line x1="451.60" y1="250.50" x2="451.60" y2="253" stroke="#1c1c1c" stroke-width="1"/>
<line x1="471.10" y1="250.50" x2="471.10" y2="253" stroke="#1c1c1c" stroke-width="1"/>
<line x1="490.10" y1="250.50" x2="490.10" y2="253" stroke="#1c1c1c" stroke-width="1"/>
<line x1="509.90" y1="250.50" x2="509.90" y2="253" stroke="#1c1c1c" stroke-width="1"/>
<rect x="470.45" y="56.00" width="1.3" height="1.70" fill="#505050"/>
<rect x="470.45" y="60.20" width="1.3" height="3.20" fill="#505050"/>
<rect x="470.45" y="68.39" width="1.3" height="3.20" fill="#505050"/>
<rect x="470.45" y="76.58" width="1.3" height="3.20" fill="#505050"/>
<rect x="470.45" y="84.77" width="1.3" height="3.20" fill="#505050"/>
<rect x="470.45" y="92.96" width="1.3" height="3.20" fill="#505050"/>
<rect x="470.45" y="101.15" width="1.3" height="3.20" fill="#505050"/>
<rect x="470.45" y="109.34" width="1.3" height="3.20" fill="#505050"/>
<rect x="470.45" y="117.53" width="1.3" height="3.20" fill="#505050"/>
<rect x="470.45" y="125.72" width="1.3" height="3.20" fill="#505050"/>
<rect x="470.45" y="133.91" width="1.3" height="3.20" fill="#505050"/>
<rect x="470.45" y="142.10" width="1.3" height="3.20" fill="#505050"/>
<rect x="470.45" y="150.29" width="1.3" height="3.20" fill="#505050"/>
<rect x="470.45" y="158.48" width="1.3" height="3.20" fill="#505050"/>
<rect x="470.45" y="166.67" width="1.3" height="3.20" fill="#505050"/>
<rect x="470.45" y="174.86" width="1.3" height="3.20" fill="#505050"/>
<rect x="470.45" y="183.05" width="1.3" height="3.20" fill="#505050"/>
<rect x="470.45" y="191.24" width="1.3" height="3.20" fill="#505050"/>
<rect x="470.45" y="199.43" width="1.3" height="3.20" fill="#505050"/>
<rect x="470.45" y="207.62" width="1.3" height="3.20" fill="#505050"/>
<rect x="470.45" y="215.81" width="1.3" height="3.20" fill="#505050"/>
<rect x="470.45" y="224.00" width="1.3" height="3.20" fill="#505050"/>
<rect x="470.45" y="232.19" width="1.3" height="3.20" fill="#505050"/>
<rect x="470.45" y="240.38" width="1.3" height="3.20" fill="#505050"/>
<rect x="470.45" y="248.57" width="1.3" height="1.43" fill="#505050"/>
<text transform="translate(422.23,261.5) scale(1.07,1)" font-size="5.9" text-anchor="middle" fill="#2a2a2a" stroke="#2a2a2a" stroke-width="0.12">1</text>
<text transform="translate(425.43,270.90) rotate(-45) scale(0.9,1)" font-size="6.9" text-anchor="end" fill="#2a2a2a" stroke="#2a2a2a" stroke-width="0.12">n = 62</text>
<text transform="translate(441.81,261.5) scale(1.07,1)" font-size="5.9" text-anchor="middle" fill="#2a2a2a" stroke="#2a2a2a" stroke-width="0.12">2</text>
<text transform="translate(445.00,270.90) rotate(-45) scale(0.9,1)" font-size="6.9" text-anchor="end" fill="#2a2a2a" stroke="#2a2a2a" stroke-width="0.12">n = 20</text>
<text transform="translate(461.39,261.5) scale(1.07,1)" font-size="5.9" text-anchor="middle" fill="#2a2a2a" stroke="#2a2a2a" stroke-width="0.12">3</text>
<text transform="translate(464.59,270.90) rotate(-45) scale(0.9,1)" font-size="6.9" text-anchor="end" fill="#2a2a2a" stroke="#2a2a2a" stroke-width="0.12">n = 16</text>
<text transform="translate(480.97,261.5) scale(1.07,1)" font-size="5.9" text-anchor="middle" fill="#2a2a2a" stroke="#2a2a2a" stroke-width="0.12">4</text>
<text transform="translate(484.17,270.90) rotate(-45) scale(0.9,1)" font-size="6.9" text-anchor="end" fill="#2a2a2a" stroke="#2a2a2a" stroke-width="0.12">n = 10</text>
<text transform="translate(500.55,261.5) scale(1.07,1)" font-size="5.9" text-anchor="middle" fill="#2a2a2a" stroke="#2a2a2a" stroke-width="0.12">5</text>
<text transform="translate(503.75,270.90) rotate(-45) scale(0.9,1)" font-size="6.9" text-anchor="end" fill="#2a2a2a" stroke="#2a2a2a" stroke-width="0.12">n = 14</text>
<text transform="translate(462.50,297) scale(0.62,1)" font-size="8.2" font-weight="bold" text-anchor="middle" fill="#333" stroke="#333" stroke-width="0.35">Deauville score</text>
<text x="463.00" y="25.2" font-size="8.35" text-anchor="middle" fill="#1e1e1e" stroke="#1e1e1e" stroke-width="0.15">CHOP</text>
<rect x="416.05" y="30.6" width="51.51" height="19.3" fill="#3eb94d"/>
<text x="441.81" y="42.3" font-size="6.15" text-anchor="middle" fill="#eefaea">PET4-negative</text>
<rect x="474.79" y="30.6" width="31.93" height="19.3" fill="#8a86c5"/>
<text x="490.06" y="37.7" font-size="5.9" text-anchor="middle" fill="#eeedfa">PET4-</text>
<text x="490.75" y="45.7" font-size="5.9" text-anchor="middle" fill="#eeedfa">positive</text>
<text x="147.5" y="13.1" font-size="8" text-anchor="middle" fill="#1e1e1e" stroke="#1e1e1e" stroke-width="0.15">Total population</text>
<text x="401.4" y="13.1" font-size="8" text-anchor="middle" fill="#1e1e1e" stroke="#1e1e1e" stroke-width="0.15">sALCL subgroup</text>
<rect x="267.30" y="42.80" width="1.3" height="2.20" fill="#444"/>
<rect x="267.30" y="47.30" width="1.3" height="3.80" fill="#444"/>
<rect x="267.30" y="55.59" width="1.3" height="3.80" fill="#444"/>
<rect x="267.30" y="63.88" width="1.3" height="3.80" fill="#444"/>
<rect x="267.30" y="72.17" width="1.3" height="3.80" fill="#444"/>
<rect x="267.30" y="80.46" width="1.3" height="3.80" fill="#444"/>
<rect x="267.30" y="88.75" width="1.3" height="3.80" fill="#444"/>
<rect x="267.30" y="97.04" width="1.3" height="3.80" fill="#444"/>
<rect x="267.30" y="105.33" width="1.3" height="3.80" fill="#444"/>
<rect x="267.30" y="113.62" width="1.3" height="3.80" fill="#444"/>
<rect x="267.30" y="121.91" width="1.3" height="3.80" fill="#444"/>
<rect x="267.30" y="130.20" width="1.3" height="3.80" fill="#444"/>
<rect x="267.30" y="138.49" width="1.3" height="3.80" fill="#444"/>
<rect x="267.30" y="146.78" width="1.3" height="3.80" fill="#444"/>
<rect x="267.30" y="155.07" width="1.3" height="3.80" fill="#444"/>
<rect x="267.30" y="163.36" width="1.3" height="3.80" fill="#444"/>
<rect x="267.30" y="171.65" width="1.3" height="3.80" fill="#444"/>
<rect x="267.30" y="179.94" width="1.3" height="3.80" fill="#444"/>
<rect x="267.30" y="188.23" width="1.3" height="3.80" fill="#444"/>
<rect x="267.30" y="196.52" width="1.3" height="3.80" fill="#444"/>
<rect x="267.30" y="204.81" width="1.3" height="3.80" fill="#444"/>
<rect x="267.30" y="213.10" width="1.3" height="3.80" fill="#444"/>
<rect x="267.30" y="221.39" width="1.3" height="3.80" fill="#444"/>
<rect x="267.30" y="229.68" width="1.3" height="3.80" fill="#444"/>
<rect x="267.30" y="237.97" width="1.3" height="3.80" fill="#444"/>
<rect x="267.30" y="246.26" width="1.3" height="3.80" fill="#444"/>
<rect x="267.30" y="254.55" width="1.3" height="3.80" fill="#444"/>
<rect x="267.30" y="262.84" width="1.3" height="1.86" fill="#444"/>
<text transform="translate(13.6,150.8) rotate(-90) scale(0.66,1)" font-size="8.4" font-weight="bold" text-anchor="middle" fill="#333" stroke="#333" stroke-width="0.3">Patients, %</text>
<text transform="translate(191.7,308.8) scale(0.95,1)" font-size="6.6" fill="#222" stroke="#222" stroke-width="0.1">EOT response:</text>
<rect x="235.10" y="303.7" width="5.4" height="5.4" fill="#0b6c53"/>
<text x="244" y="308.8" font-size="6.6" fill="#222" stroke="#222" stroke-width="0.1">CR</text>
<rect x="259.00" y="303.7" width="5.4" height="5.4" fill="#3cb64d"/>
<text x="267" y="308.8" font-size="6.6" fill="#222" stroke="#222" stroke-width="0.1">PR</text>
<rect x="282.80" y="303.7" width="5.4" height="5.4" fill="#5f2272"/>
<text x="290.4" y="308.8" font-size="6.6" fill="#222" stroke="#222" stroke-width="0.1">SD</text>
<rect x="305.30" y="303.7" width="5.4" height="5.4" fill="#bdbdc1"/>
<text x="314.1" y="308.8" font-size="6.6" fill="#222" stroke="#222" stroke-width="0.1">PD</text>
<rect x="328.60" y="303.7" width="5.4" height="5.4" fill="#185a8e"/>
<text x="336.6" y="308.8" font-size="6.6" fill="#222" stroke="#222" stroke-width="0.1">NE/NA</text>
</svg>
</body></html>
